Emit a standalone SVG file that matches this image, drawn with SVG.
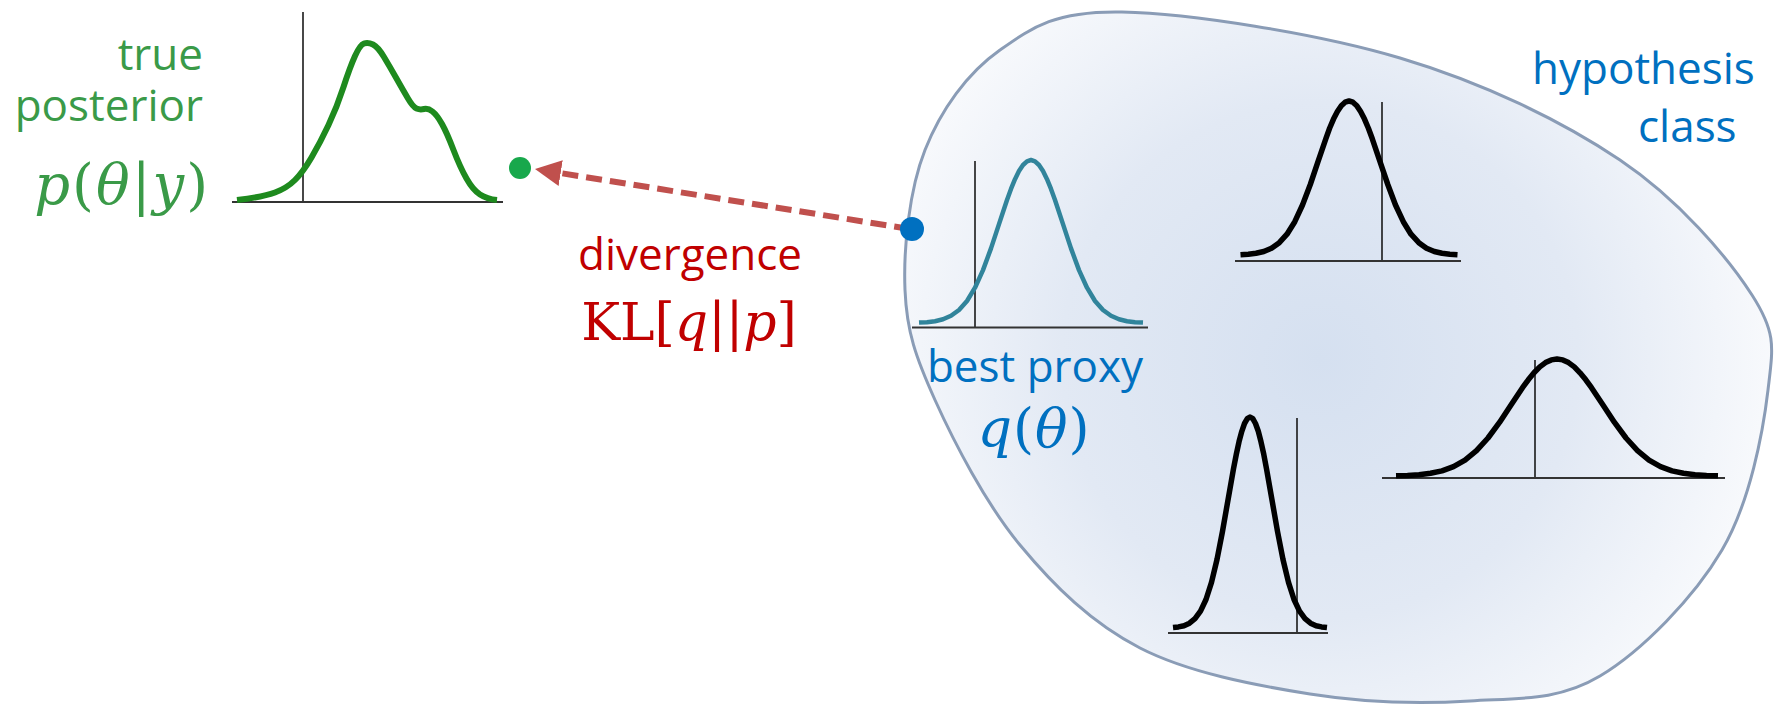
<svg xmlns="http://www.w3.org/2000/svg" width="1786" height="707" viewBox="0 0 1786 707">
<style>
.lbl{font-family:"Open Sans","Noto Sans","DejaVu Sans",sans-serif;font-size:44px}
.math{font-family:"DejaVu Serif","Liberation Serif",serif;font-size:52px}
.it{font-style:italic}
.green{fill:#3a9a48}
.blue{fill:#0070c0}
.red{fill:#c00000}
.axis{stroke:#1a1a1a;stroke-width:1.6;fill:none}
.base{stroke:#333;stroke-width:2.2;fill:none}
.bell{fill:none;stroke:#000;stroke-width:5.5;stroke-linejoin:round}
</style>
<defs>
<radialGradient id="blobFill" gradientUnits="userSpaceOnUse" cx="1320" cy="360" r="470">
<stop offset="0" stop-color="#d5e0f0"/>
<stop offset="0.55" stop-color="#e2e9f4"/>
<stop offset="1" stop-color="#fafbfd"/>
</radialGradient>
<marker id="arrowHead" markerUnits="userSpaceOnUse" viewBox="0 0 26 26" refX="2" refY="13" markerWidth="26" markerHeight="26" orient="auto">
<path d="M0,0 L26,13 L0,26 z" fill="#c0504d"/>
</marker>
</defs>

<g id="hypothesis-class">
<path d="M1122,12 C1188.7,13.3 1317,33.3 1400,58 C1483,82.7 1561.3,120.5 1620,160 C1678.7,199.5 1727.3,256.7 1752,295 C1776.7,333.3 1773,347.5 1768,390 C1763,432.5 1750,502.3 1722,550 C1694,597.7 1642,650.8 1600,676 C1558,701.2 1518.3,698 1470,701 C1421.7,704 1365,702.8 1310,694 C1255,685.2 1188.3,672.8 1140,648 C1091.7,623.2 1054.2,586.3 1020,545 C985.8,503.7 954.2,442.5 935,400 C915.8,357.5 906.7,331.7 905,290 C903.3,248.3 909.2,190 925,150 C940.8,110 967.2,73 1000,50 C1032.8,27 1055.3,10.7 1122,12 Z" fill="url(#blobFill)" stroke="#8a9cb6" stroke-width="3"/>
<text class="lbl blue" x="1532" y="84">hypothesis</text>
<text class="lbl blue" x="1638" y="142">class</text>
</g>

<g id="true-posterior">
<line class="axis" x1="303" y1="12" x2="303" y2="202"/>
<line class="base" x1="232" y1="202" x2="503" y2="202"/>
<path d="M237,200 Q263,197 275,192.5 Q287,188 295,180 Q303,172 311.5,157.5 Q320,143 328.5,125 Q337,107 343.5,87 Q350,67 355,56 Q360,45 364,43.5 Q368,42 373,44.5 Q378,47 384,57 Q390,67 396.5,78.5 Q403,90 408,98.5 Q413,107 416.5,108.5 Q420,110 424,109 Q428,108 432.5,111.5 Q437,115 442,124 Q447,133 453.5,150 Q460,167 466.5,178.5 Q473,190 480,194.5 Q487,199 497,200" fill="none" stroke="#1e8a1e" stroke-width="6" stroke-linejoin="round"/>
<text class="lbl green" x="203" y="70" text-anchor="end">true</text>
<text class="lbl green" x="203" y="121" text-anchor="end">posterior</text>
<text class="math green" x="210" y="204" text-anchor="end" letter-spacing="2" style="font-size:56px"><tspan class="it">p</tspan>(<tspan class="it">θ</tspan>|<tspan class="it">y</tspan>)</text>
<circle cx="520" cy="168" r="11" fill="#18a84c"/>
</g>

<g id="best-proxy">
<line class="axis" x1="975" y1="161" x2="975" y2="328"/>
<line class="base" x1="912" y1="327.5" x2="1148" y2="327.5"/>
<path class="bell" style="stroke:#31849b;stroke-width:4.5" d="M919,322.6 L927,322.2 L935,321.2 L943,319.3 L951,315.8 L959,310 L967,301 L975,287.7 L983,270.1 L991,248.4 L999,224.1 L1007,200 L1011,188.9 L1015,179.2 L1019,171.1 L1023,165 L1027,161.3 L1031,160 L1035,161.3 L1039,165 L1043,171.1 L1047,179.2 L1051,188.9 L1055,200 L1063,224.1 L1071,248.4 L1079,270.1 L1087,287.7 L1095,301 L1103,310 L1111,315.8 L1119,319.3 L1127,321.2 L1135,322.2 L1143,322.6"/>
<text class="lbl blue" x="1035" y="382" text-anchor="middle">best proxy</text>
<text class="math blue" x="1034" y="447" text-anchor="middle" letter-spacing="1" style="font-size:54px"><tspan class="it">q</tspan>(<tspan class="it">θ</tspan>)</text>
</g>

<g id="candidate-top">
<line class="axis" x1="1382" y1="102" x2="1382" y2="261"/>
<line class="base" x1="1235" y1="261" x2="1461" y2="261"/>
<path class="bell" d="M1240.5,254.7 L1248.3,254.2 L1256,253.3 L1263.8,251.5 L1271.5,248.2 L1279.3,242.7 L1287,234.2 L1294.8,221.7 L1302.5,205 L1310.3,184.5 L1318,161.6 L1325.8,138.8 L1329.6,128.3 L1333.5,119.1 L1337.4,111.5 L1341.3,105.7 L1345.1,102.2 L1349,101 L1352.9,102.2 L1356.8,105.7 L1360.6,111.5 L1364.5,119.1 L1368.4,128.3 L1372.3,138.8 L1380,161.6 L1387.8,184.5 L1395.5,205 L1403.3,221.7 L1411,234.2 L1418.8,242.7 L1426.5,248.2 L1434.3,251.5 L1442,253.3 L1449.8,254.2 L1457.5,254.7"/>
</g>

<g id="candidate-narrow">
<line class="axis" x1="1297" y1="418" x2="1297" y2="633"/>
<line class="base" x1="1168" y1="633" x2="1328" y2="633"/>
<path class="bell" d="M1173,627.5 L1178.5,626.9 L1184,625.7 L1189.5,623.2 L1195,618.7 L1200.5,611.2 L1206,599.5 L1211.5,582.4 L1217,559.5 L1222.5,531.4 L1228,500 L1233.5,468.7 L1236.3,454.4 L1239,441.8 L1241.8,431.3 L1244.5,423.5 L1247.3,418.7 L1250,417 L1252.8,418.7 L1255.5,423.5 L1258.3,431.3 L1261,441.8 L1263.8,454.4 L1266.5,468.7 L1272,500 L1277.5,531.4 L1283,559.5 L1288.5,582.4 L1294,599.5 L1299.5,611.2 L1305,618.7 L1310.5,623.2 L1316,625.7 L1321.5,626.9 L1327,627.5"/>
</g>

<g id="candidate-wide">
<line class="axis" x1="1535" y1="360" x2="1535" y2="478"/>
<line class="base" x1="1382" y1="478" x2="1725" y2="478"/>
<path class="bell" d="M1396,475.7 L1407.5,475.4 L1419,474.7 L1430.5,473.3 L1442,470.9 L1453.5,466.7 L1465,460.2 L1476.5,450.7 L1488,438 L1499.5,422.4 L1511,405 L1522.5,387.7 L1528.3,379.8 L1534,372.8 L1539.8,366.9 L1545.5,362.6 L1551.3,359.9 L1557,359 L1562.8,359.9 L1568.5,362.6 L1574.3,366.9 L1580,372.8 L1585.8,379.8 L1591.5,387.7 L1603,405 L1614.5,422.4 L1626,438 L1637.5,450.7 L1649,460.2 L1660.5,466.7 L1672,470.9 L1683.5,473.3 L1695,474.7 L1706.5,475.4 L1718,475.7"/>
</g>

<g id="connectors">
<line x1="910" y1="229" x2="558.7" y2="172.8" stroke="#c0504d" stroke-width="6" stroke-dasharray="16 8" marker-end="url(#arrowHead)"/>
<text class="lbl red" x="690" y="270" text-anchor="middle">divergence</text>
<text class="math red" x="689" y="340" text-anchor="middle">KL[<tspan class="it">q</tspan>||<tspan class="it">p</tspan>]</text>
</g>

<g id="proxy-point">
<circle cx="912" cy="229" r="12" fill="#0070c0"/>
</g>
</svg>
